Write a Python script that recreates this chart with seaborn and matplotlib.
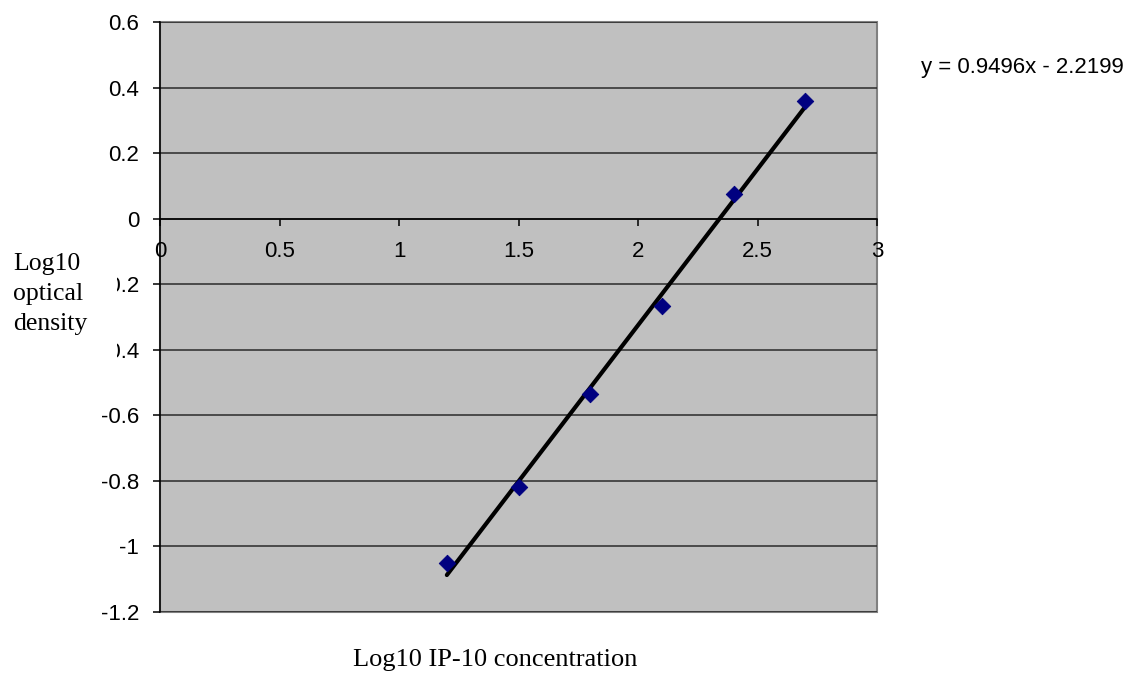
import numpy as np
import pandas as pd
import seaborn as sns
import matplotlib
matplotlib.use("Agg")
import matplotlib.pyplot as plt
from matplotlib.patches import Rectangle
from matplotlib.ticker import FuncFormatter

#---------DATA
log_conc = [1.2, 1.5, 1.8, 2.1, 2.4, 2.7]
log_od = [-1.05, -0.82, -0.535, -0.265, 0.075, 0.36]
x_ticks = [0, 0.5, 1, 1.5, 2, 2.5, 3]
y_ticks = [-1.2, -1.0, -0.8, -0.6, -0.4, -0.2, 0, 0.2, 0.4, 0.6]
eq_text = "y = 0.9496x - 2.2199"

df = pd.DataFrame({"x": log_conc, "y": log_od})

sns.set_style("white")
plt.rcParams["font.family"] = ["Liberation Sans", "DejaVu Sans"]
plt.rcParams["axes.unicode_minus"] = False
plt.rcParams["text.color"] = "black"
plt.rcParams["xtick.color"] = "black"
plt.rcParams["ytick.color"] = "black"

fig = plt.figure(figsize=(11.31, 6.73), dpi=100)
ax = fig.add_axes([0.1415, 0.0906, 0.634, 0.8767])
ax.set_facecolor("#C0C0C0")

# gridlines
for yv in y_ticks:
    ax.axhline(yv, color="#2b2b2b", lw=1.1, zorder=1)

# trendline + points
sns.regplot(data=df, x="x", y="y", ax=ax, scatter=False, ci=None,
            truncate=True, line_kws={"color": "black", "lw": 3, "zorder": 3})
sns.scatterplot(data=df, x="x", y="y", ax=ax, marker="D", s=70,
                color="#000080", edgecolor="#000080", zorder=4, legend=False)

ax.set_xlim(0, 3)
ax.set_ylim(-1.2, 0.6)
ax.set_xticks(x_ticks)
ax.set_yticks(y_ticks)
fmt = FuncFormatter(lambda v, p: "{:g}".format(round(v, 2)))
ax.xaxis.set_major_formatter(fmt)
ax.yaxis.set_major_formatter(fmt)

# spines: x axis crosses at y=0
for s in ["top", "right"]:
    ax.spines[s].set_visible(False)
ax.spines["bottom"].set_position(("data", 0))
ax.spines["bottom"].set_color("black")
ax.spines["left"].set_color("black")
ax.spines["bottom"].set_linewidth(1.1)
ax.spines["left"].set_linewidth(1.1)
ax.add_patch(Rectangle((0, 0), 1, 1, transform=ax.transAxes, fill=False,
                       edgecolor="#808080", lw=1.5, zorder=0.5, clip_on=False))

ax.tick_params(axis="x", direction="out", length=5, width=1.1, pad=11,
               labelsize=16, bottom=True)
ax.tick_params(axis="y", direction="out", length=5, width=1.1, pad=10,
               labelsize=16, left=True)
ax.set_xlabel("")
ax.set_ylabel("")

# white box of the axis title covers part of the tick labels
fig.patches.append(Rectangle((0, 311 / 673), 117 / 1131, 120 / 673,
                             transform=fig.transFigure, facecolor="white",
                             edgecolor="none", zorder=5))
fig.text(0.0115, 0.563, "Log10\noptical\ndensity", family="Liberation Serif",
         fontsize=18.5, ha="left", va="center", linespacing=1.45, zorder=6)
fig.text(0.4377, 0.019, "Log10 IP-10 concentration", family="Liberation Serif",
         fontsize=19, ha="center", va="center")
fig.text(0.8145, 0.9, eq_text, fontsize=16, ha="left", va="center")

fig.savefig("out.png", dpi=100, facecolor="white")
